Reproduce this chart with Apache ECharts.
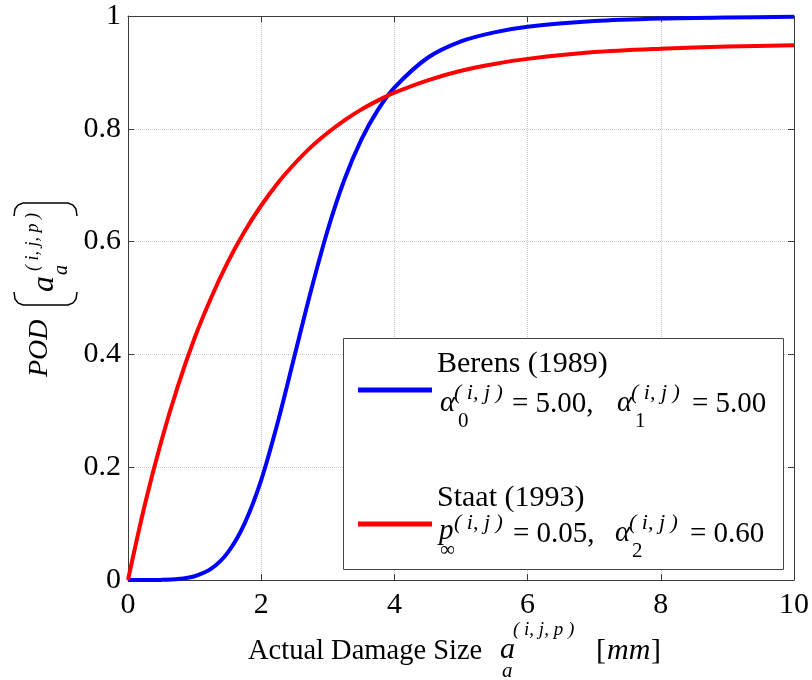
<!DOCTYPE html>
<html>
<head>
<meta charset="utf-8">
<script src="https://cdn.jsdelivr.net/npm/echarts@6/dist/echarts.min.js"></script>
<style>html,body{margin:0;padding:0;background:#fff}#c{width:812px;height:680px}</style>
</head>
<body>
<div id="c"></div>
<script>
// Damage size a [mm]
var damageSize = [0,0.25,0.5,0.75,1,1.25,1.5,1.75,2,2.25,2.5,2.75,3,3.25,3.5,3.75,4,4.5,5,5.5,6,7,8,9,10];
// Berens (1989) POD
var berensPOD = [0,0,0.0002,0.0016,0.0067,0.020,0.049,0.100,0.177,0.280,0.397,0.514,0.621,0.710,0.780,0.833,0.873,0.926,0.955,0.971,0.981,0.991,0.9955,0.9975,0.9985];
// Staat (1993) POD
var staatPOD = [0,0.132,0.246,0.344,0.429,0.501,0.564,0.618,0.664,0.704,0.738,0.768,0.793,0.815,0.834,0.850,0.864,0.886,0.903,0.915,0.924,0.936,0.942,0.946,0.948];
var seriesNames = ['Berens (1989)', 'Staat (1993)'];
var xTicks = [0,2,4,6,8,10];
var yTicks = [0,0.2,0.4,0.6,0.8,1];

var FONT = "'Liberation Serif','Times New Roman',serif";
var AX = '#3a3a3a';

function pairs(xs, ys){ return xs.map(function(x,i){ return [x, ys[i]]; }); }

function t(text, x, y, opt){
  opt = opt || {};
  return {
    type: 'text', x: x, y: y, z: opt.z || 20, rotation: opt.rot || 0,
    scaleX: opt.sx || 1,
    style: {
      text: text, fill: '#000',
      font: (opt.italic ? 'italic ' : '') + (opt.size || 30) + 'px ' + FONT,
      textAlign: opt.align || 'left', textVerticalAlign: opt.va || 'middle'
    }
  };
}
var R = Math.PI/2;

var graphics = [
  // legend box
  { type: 'rect', z: 3, shape: { x: 343.5, y: 338.5, width: 440, height: 231 },
    style: { fill: '#fff', stroke: '#444', lineWidth: 1 } },
  // Berens formula
  t('\u03b1', 440, 403, {italic:true, size:29}),
  t('( i, j )', 454, 393, {italic:true, size:22}),
  t('0', 458, 421, {size:21}),
  t('= 5.00,', 512, 404, {size:29}),
  t('\u03b1', 617, 403, {italic:true, size:29}),
  t('( i, j )', 631, 393, {italic:true, size:22}),
  t('1', 635, 421, {size:21}),
  t('= 5.00', 692, 404, {size:29}),
  // Staat formula
  t('p', 439, 531, {italic:true, size:29}),
  t('( i, j )', 454, 523, {italic:true, size:22}),
  t('\u221e', 440, 550, {size:21}),
  t('= 0.05,', 513, 534, {size:29}),
  t('\u03b1', 615, 533, {italic:true, size:29}),
  t('( i, j )', 629, 523, {italic:true, size:22}),
  t('2', 632, 551, {size:21}),
  t('= 0.60', 690, 534, {size:29}),
  // x axis title
  t('Actual Damage Size', 248, 651, {size:30, sx:0.95}),
  t('a', 500, 650, {italic:true, size:30}),
  t('( i, j, p )', 513, 630, {italic:true, size:19}),
  t('a', 502, 671, {italic:true, size:21}),
  t('[', 596, 651, {size:30}),
  t('mm', 607, 651, {italic:true, size:30}),
  t(']', 651, 651, {size:30}),
  // y axis title (rotated)
  t('POD', 40, 377, {italic:true, size:28, rot:R}),
  t('a', 45, 292, {italic:true, size:32, rot:R}),
  t('( i, j, p )', 33, 271, {italic:true, size:18, rot:R}),
  t('a', 62, 275, {italic:true, size:20, rot:R}),
  { type: 'polyline', z: 20, shape: { points: [[14,292],[15,299],[18,303],[23,305],[68,305],[73,303],[76,299],[77,292]] },
    style: { fill: null, stroke: '#000', lineWidth: 1.5 } },
  { type: 'polyline', z: 20, shape: { points: [[14,216],[15,209],[18,205],[23,203],[68,203],[73,205],[76,209],[77,216]] },
    style: { fill: null, stroke: '#000', lineWidth: 1.5 } }
];

var axisCommon = {
  axisLine: { show: true, onZero: false, lineStyle: { color: AX, width: 1 } },
  axisTick: { show: true, inside: true, length: 6, lineStyle: { color: AX } }
};

var option = {
  animation: false,
  backgroundColor: '#fff',
  grid: { left: 128, right: 17, top: 16, bottom: 100, containLabel: false },
  xAxis: [
    Object.assign({ type: 'value', min: 0, max: 10, interval: 2, position: 'bottom',
      axisLabel: { fontFamily: FONT, fontSize: 30, color: '#000', margin: 10 },
      splitLine: { show: true, lineStyle: { color: '#c8c8c8', type: 'dotted', width: 1 } } }, axisCommon),
    Object.assign({ type: 'value', min: 0, max: 10, interval: 2, position: 'top',
      axisLabel: { show: false }, splitLine: { show: false } }, axisCommon)
  ],
  yAxis: [
    Object.assign({ type: 'value', min: 0, max: 1, interval: 0.2, position: 'left',
      axisLabel: { fontFamily: FONT, fontSize: 30, color: '#000', margin: 7 },
      splitLine: { show: true, lineStyle: { color: '#c8c8c8', type: 'dotted', width: 1 } } }, axisCommon),
    Object.assign({ type: 'value', min: 0, max: 1, interval: 0.2, position: 'right',
      axisLabel: { show: false }, splitLine: { show: false } }, axisCommon)
  ],
  legend: {
    orient: 'vertical', left: 358, top: 349, padding: 0, itemGap: 52,
    itemWidth: 74, itemHeight: 5, z: 10, icon: 'rect',
    data: seriesNames,
    formatter: function (name) { return name + '\n \n '; },
    textStyle: { fontFamily: FONT, fontSize: 30, color: '#000', lineHeight: 26 }
  },
  series: [
    { name: seriesNames[0], type: 'line', data: pairs(damageSize, berensPOD), showSymbol: false, symbol: 'none',
      smooth: 0.3, lineStyle: { color: '#0000ff', width: 4 }, itemStyle: { color: '#0000ff' }, z: 2 },
    { name: seriesNames[1], type: 'line', data: pairs(damageSize, staatPOD), showSymbol: false, symbol: 'none',
      smooth: 0.3, lineStyle: { color: '#ff0000', width: 4 }, itemStyle: { color: '#ff0000' }, z: 2 }
  ],
  graphic: graphics
};
var chart = echarts.init(document.getElementById('c'), null, { renderer: 'canvas' });
chart.setOption(option);
</script>
</body>
</html>
